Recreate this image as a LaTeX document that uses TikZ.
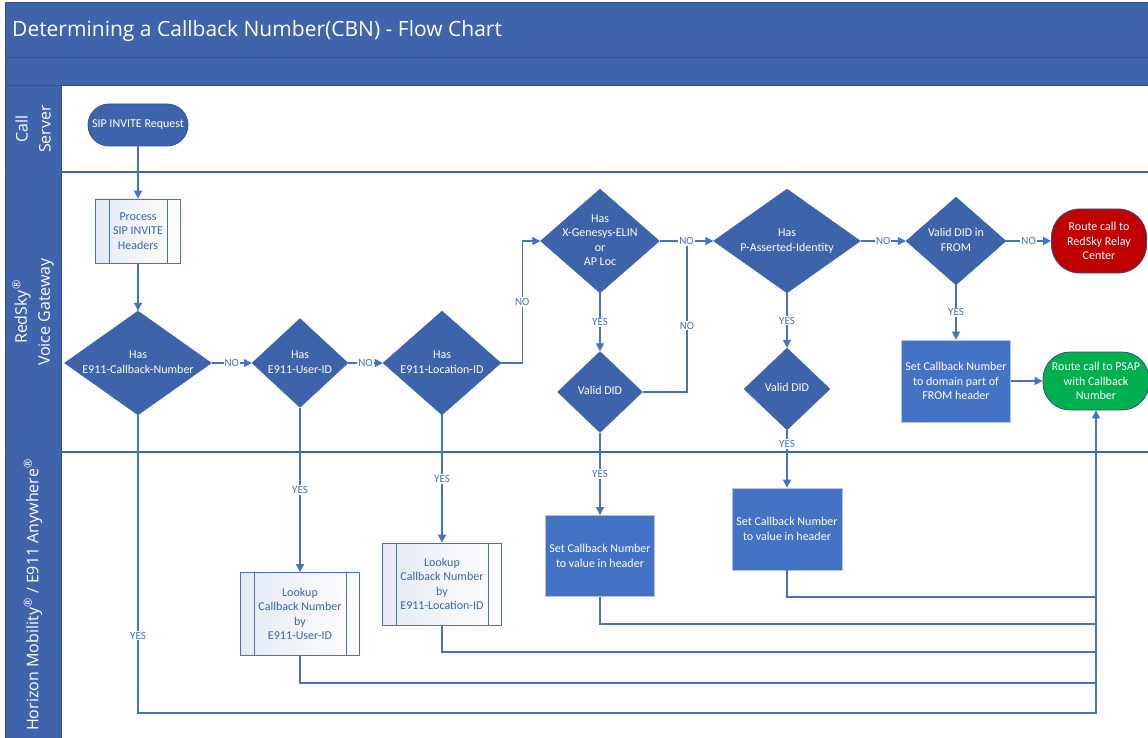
\documentclass[tikz,border=0pt]{standalone}
\usepackage{fontspec}
\setmainfont{Carlito}
\newfontfamily\osans{Open Sans}
\usetikzlibrary{arrows.meta,shapes.geometric}
\definecolor{hdr}{HTML}{3F64AC}
\definecolor{hdrline}{HTML}{2F4F8F}
\definecolor{dia}{HTML}{3D63AA}
\definecolor{boxb}{HTML}{4472C4}
\definecolor{boxedge}{HTML}{B4C2DE}
\definecolor{lnc}{HTML}{4472C4}
\definecolor{rd}{HTML}{C00000}
\definecolor{gr}{HTML}{00B050}
\definecolor{subL}{HTML}{E4E9F4}
\definecolor{termedge}{HTML}{2F528F}
\newcommand\dtx[1]{\makebox[0pt]{\smash{\raisebox{-0.25em}{\begin{tabular}{@{}c@{}}#1\end{tabular}}}}}
\tikzset{
  nodefont/.style={font=\fontsize{12}{14.5}\selectfont},
  dec/.style={diamond, fill=dia, draw=dia, inner sep=0pt, text=white, nodefont},
  term/.style={rectangle, draw=termedge, line width=0.8pt, text=white, align=center, inner sep=0pt, nodefont},
  solid box/.style={rectangle, fill=boxb, draw=boxedge, line width=0.8pt, text=white, align=center, inner sep=0pt, nodefont},
  sub/.style={rectangle, draw=lnc, line width=0.8pt, left color=subL, right color=white, text=dia, align=center, inner sep=0pt, nodefont,
    path picture={\draw[lnc, line width=0.8pt] ([xshift=13.5pt]path picture bounding box.north west) -- ([xshift=13.5pt]path picture bounding box.south west);
                  \draw[lnc, line width=0.8pt] ([xshift=-13.5pt]path picture bounding box.north east) -- ([xshift=-13.5pt]path picture bounding box.south east);}},
  conn/.style={draw=lnc, line width=1.2pt},
  lbl/.style={fill=white, text=lnc, inner sep=1pt, font=\fontsize{11}{13}\selectfont},
  lanetxt/.style={rotate=90, text=white, align=center, font=\osans\fontsize{16}{23}\selectfont}
}
\begin{document}
\begin{tikzpicture}[x=1pt,y=-1pt, >={Triangle[length=8pt,width=8pt]}]
\useasboundingbox (0,0) rectangle (1148,738);
\fill[white] (0,0) rectangle (1148,738);
% header
\fill[hdr] (5,3) rectangle (1148,86);
\fill[hdr] (5,86) rectangle (61,738);
\draw[hdrline, line width=1pt] (5,3) -- (1148,3);
\draw[hdrline, line width=1pt] (5,3) -- (5,738);
\draw[hdrline, line width=1pt] (5,58) -- (1148,58);
\draw[hdrline, line width=1pt] (5,86) -- (1148,86);
\draw[hdrline, line width=1pt] (61,86) -- (61,738);
\draw[hdr, line width=1.4pt] (5,172) -- (1148,172);
\draw[hdr, line width=1.4pt] (5,452) -- (1148,452);
\node[anchor=west, text=white, font=\osans\fontsize{21}{24}\selectfont, inner sep=0pt] (title) at (12,31) {Determining a Callback Number(CBN) - Flow Chart};
% lane labels
\node[lanetxt] (lane1) at (33,129) {Call\\Server};
\node[lanetxt] (lane2) at (33,312) {RedSky\textsuperscript{®}\\Voice Gateway};
\node[lanetxt] (lane3) at (33,595) {Horizon Mobility\textsuperscript{®} / E911 Anywhere\textsuperscript{®}};
% nodes
\node[term, fill=dia, minimum width=100pt, minimum height=42pt, rounded corners=21pt] (sip) at (138,125) {SIP INVITE Request};
\node[sub, minimum width=85pt, minimum height=64pt] (proc) at (138,231) {Process\\SIP INVITE\\Headers};
\node[dec, minimum width=147pt, minimum height=104pt] (d1) at (138,363) {\dtx{Has\\E911-Callback-Number}};
\node[dec, minimum width=96pt, minimum height=89pt] (d2) at (300,363) {\dtx{Has\\E911-User-ID}};
\node[dec, minimum width=118pt, minimum height=104pt] (d3) at (442,363) {\dtx{Has\\E911-Location-ID}};
\node[dec, minimum width=119pt, minimum height=104pt] (dx) at (600,241) {\dtx{Has\\X-Genesys-ELIN\\or\\AP Loc}};
\node[dec, minimum width=147pt, minimum height=104pt] (pai) at (787,241) {\dtx{Has\\P-Asserted-Identity}};
\node[dec, minimum width=100pt, minimum height=88pt] (d7) at (956,241) {\dtx{Valid DID in\\FROM}};
\node[term, fill=rd, minimum width=95pt, minimum height=64pt, rounded corners=28pt] (red) at (1099,241) {Route call to\\RedSky Relay\\Center};
\node[dec, minimum width=85pt, minimum height=81pt] (d5) at (600,392) {\dtx{Valid DID}};
\node[dec, minimum width=86pt, minimum height=82pt] (d6) at (787,389) {\dtx{Valid DID}};
\node[solid box, minimum width=109pt, minimum height=82pt] (setfrom) at (956,381) {Set Callback Number\\to domain part of\\FROM header};
\node[term, fill=gr, minimum width=106pt, minimum height=58pt, rounded corners=27pt] (green) at (1096,381) {Route call to PSAP\\with Callback\\Number};
\node[solid box, minimum width=109pt, minimum height=81pt] (boxA) at (600,556) {Set Callback Number\\to value in header};
\node[solid box, minimum width=110pt, minimum height=82pt] (boxB) at (787,529) {Set Callback Number\\to value in header};
\node[sub, minimum width=119pt, minimum height=83pt] (lookU) at (300,614) {Lookup\\Callback Number\\by\\E911-User-ID};
\node[sub, minimum width=119pt, minimum height=82pt] (lookL) at (442,584) {Lookup\\Callback Number\\by\\E911-Location-ID};
% junction coordinates
\coordinate (jn) at (687,241);
\coordinate (tb) at (1096,713);
\coordinate (t1) at (1096,597);
\coordinate (t2) at (1096,624);
\coordinate (t3) at (1096,652);
\coordinate (t4) at (1096,683);
% connectors
\draw[conn,->] (sip) -- (proc);
\draw[conn,->] (proc) -- (d1);
\draw[conn,->] (d1.east) -- (d2.west) node[lbl,midway] {NO};
\draw[conn,->] (d2.east) -- (d3.west) node[lbl,midway] {NO};
\draw[conn,->] (d3.east) -- ++(21,0) |- (dx.west) node[lbl,pos=0.25] {NO};
\draw[conn] (d5.east) -| (jn) node[lbl,pos=0.72] {NO};
\draw[conn,->] (dx.east) -- (pai.west) node[lbl,midway] {NO};
\draw[conn,->] (pai.east) -- (d7.west) node[lbl,midway] {NO};
\draw[conn,->] (d7.east) -- (red.west) node[lbl,midway] {NO};
\draw[conn,->] (dx.south) -- (d5.north) node[lbl,midway] {YES};
\draw[conn,->] (pai.south) -- (d6.north) node[lbl,midway] {YES};
\draw[conn,->] (d7.south) -- (setfrom.north) node[lbl,midway] {YES};
\draw[conn,->] (setfrom.east) -- (green.west);
\draw[conn,->] (d6.south) -- (boxB.north) node[lbl,pos=0.24] {YES};
\draw[conn,->] (d5.south) -- (boxA.north) node[lbl,midway] {YES};
\draw[conn,->] (d2.south) -- (lookU.north) node[lbl,midway] {YES};
\draw[conn,->] (d3.south) -- (lookL.north) node[lbl,midway] {YES};
\draw[conn,->] (d1.south) -- (d1.south |- tb) node[lbl,pos=0.74] {YES} -- (tb) -- (green.south);
\draw[conn] (boxB.south) |- (t1);
\draw[conn] (boxA.south) |- (t2);
\draw[conn] (lookL.south) |- (t3);
\draw[conn] (lookU.south) |- (t4);
\end{tikzpicture}
\end{document}
